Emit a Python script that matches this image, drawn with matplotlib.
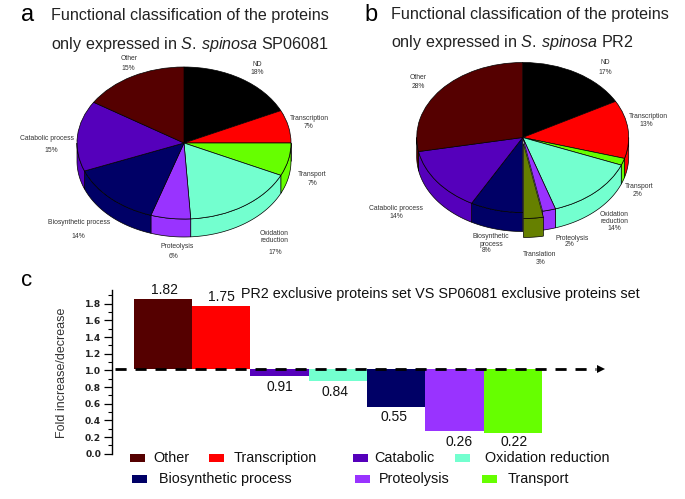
import numpy as np
import matplotlib
matplotlib.use("Agg")
import matplotlib.pyplot as plt
from matplotlib.patches import Rectangle

W, H = 685, 499

plt.rcParams['font.family'] = ['Liberation Sans', 'DejaVu Sans']
plt.rcParams['mathtext.fontset'] = 'custom'
plt.rcParams['mathtext.rm'] = 'Liberation Sans'
plt.rcParams['mathtext.it'] = 'Liberation Sans:italic'

COLORS = {
    "ND": "#000000", "Transcription": "#ff0000", "Transport": "#66ff00",
    "Oxidation": "#73ffcf", "Proteolysis": "#9933ff", "Translation": "#668000",
    "Biosynthetic": "#000066", "Catabolic": "#5500bb", "Other": "#550000",
}

# pie a: printed percentages and the slice sizes as drawn (the printed ones do not add to 100)
keys_a = ["ND", "Transcription", "Transport", "Oxidation", "Proteolysis", "Biosynthetic", "Catabolic", "Other"]
names_a = ["ND", "Transcription", "Transport", "Oxidation\nreduction", "Proteolysis",
           "Biosynthetic process", "Catabolic process", "Other"]
values_a = [18, 7, 7, 17, 6, 14, 15, 15]
shares_a = [18, 7, 7, 17, 6, 14, 15, 16]

# pie b
keys_b = ["ND", "Transcription", "Transport", "Oxidation", "Proteolysis", "Translation",
          "Biosynthetic", "Catabolic", "Other"]
names_b = ["ND", "Transcription", "Transport", "Oxidation\nreduction", "Proteolysis", "Translation",
           "Biosynthetic\nprocess", "Catabolic process", "Other"]
values_b = [17, 13, 2, 14, 2, 3, 8, 14, 28]
shares_b = [17, 12.5, 1.5, 14, 2, 3, 8, 14, 28]

# fold change bars, heights as drawn and the printed numbers
bar_keys = ["Other", "Transcription", "Catabolic", "Oxidation", "Biosynthetic", "Proteolysis", "Transport"]
bar_tops = [1.86, 1.77, 0.93, 0.87, 0.56, 0.27, 0.25]
bar_labels = ["1.82", "1.75", "0.91", "0.84", "0.55", "0.26", "0.22"]
bar_base = 1.02

# legend rows
legend_keys = ["Other", "Transcription", "Catabolic", "Oxidation", "Biosynthetic", "Proteolysis", "Transport"]
legend_names = ["Other", "Transcription", "Catabolic", "Oxidation reduction",
                "Biosynthetic process", "Proteolysis", "Transport"]

# label places in image pixels (name centre, value centre)
places_a = [((257, 65), (257, 72)), ((309, 118), (308, 127)), ((312, 175), (312, 184)),
            ((274, 237), (275, 253)), ((177, 247), (174, 256)), ((79, 223), (78, 237)),
            ((47, 138), (51, 150)), ((129, 59), (128, 68))]
places_b = [((605, 63), (605, 72)), ((648, 117), (646, 125)), ((639, 187), (638, 194)),
            ((614, 218), (614, 229)), ((572, 239), (570, 245)), ((540, 255), (541, 262)),
            ((491, 240.5), (487, 251)), ((396, 209), (396, 216)), ((418, 78), (418, 86))]
bar_label_places = [(165, 290), (221, 297), (280, 387), (334.5, 392), (394, 417), (459, 442), (514, 442)]
legend_swatches = [(129.5, 458), (209, 458), (353, 458), (455, 458), (132, 479), (355, 479), (482, 479)]
legend_text_x = [153.6, 233.5, 374.5, 485, 159, 379, 508]


def px_text(fig, x, y, s, **kw):
    kw.setdefault("ha", "left")
    kw.setdefault("va", "center")
    return fig.text(x / W, 1 - y / H, s, **kw)


def pie_3d(fig, cx, cy, rx, ry, depth, shares, keys, explode=None):
    ax = fig.add_axes([(cx - rx) / W, 1 - (cy + ry) / H, 2 * rx / W, 2 * ry / H])
    colors = [COLORS[k] for k in keys]
    wedges, _ = ax.pie(shares, colors=colors, startangle=90, counterclock=False, radius=1,
                       explode=explode, wedgeprops=dict(edgecolor="black", linewidth=0.5))
    ax.set_aspect("auto")
    ax.set_xlim(-1, 1)
    ax.set_ylim(-1, 1)
    d = depth / ry

    # side wall, only the front half of the rim shows
    for i, (w, c) in enumerate(zip(wedges, colors)):
        a0 = max(w.theta1, -180)
        a1 = min(w.theta2, 0)
        if a1 <= a0:
            continue
        t = np.radians(np.linspace(a0, a1, 40))
        x = w.center[0] + np.cos(t)
        y = w.center[1] + np.sin(t)
        xs = np.r_[x, x[::-1]]
        ys = np.r_[y, y[::-1] - d]
        lifted = explode is not None and explode[i] > 0
        ax.fill(xs, ys, facecolor=c, edgecolor="black", linewidth=0.5,
                zorder=2.5 if lifted else 0.5, clip_on=False)
    for i, w in enumerate(wedges):
        w.set_clip_on(False)
        w.set_zorder(3 if explode is not None and explode[i] > 0 else 1)
    ax.axis("off")
    return ax


def pie_labels(fig, names, values, places):
    for name, val, (p_name, p_val) in zip(names, values, places):
        px_text(fig, p_name[0], p_name[1], name, ha="center", fontsize=4.85, color="#333333", linespacing=1.0)
        px_text(fig, p_val[0], p_val[1], f"{val}%", ha="center", fontsize=4.85, color="#333333")


fig = plt.figure(figsize=(W / 100, H / 100), dpi=100)

pie_3d(fig, 184, 143, 107, 76, 18, shares_a, keys_a)
pie_labels(fig, names_a, values_a, places_a)
pie_3d(fig, 522.7, 137.5, 106, 75, 19, shares_b, keys_b,
       explode=[0, 0, 0, 0, 0, 0.08, 0, 0, 0])
pie_labels(fig, names_b, values_b, places_b)

# panel letters and titles
px_text(fig, 21, 15, "a", fontsize=17)
px_text(fig, 364, 15, "b", fontsize=17)
px_text(fig, 21, 280, "c", fontsize=16)

title_kw = dict(fontsize=11.6, color="#222222")
px_text(fig, 51, 15.5, "Functional classification of the proteins", **title_kw)
px_text(fig, 51, 44, r"only expressed in $\mathit{S.\,spinosa}$ SP06081", **title_kw)
px_text(fig, 391, 14, "Functional classification of the proteins", **title_kw)
px_text(fig, 391, 43, r"only expressed in $\mathit{S.\,spinosa}$ PR2", **title_kw)

# panel c
y0_px, unit = 453.7, 83.3
ax_left, ax_top = 112, 290
bar_w = 58.3
first_c = 163
arrow_px = 608
ax = fig.add_axes([ax_left / W, 1 - y0_px / H, (arrow_px - ax_left) / W, (y0_px - ax_top) / H])
ax.set_xlim((ax_left - first_c) / bar_w, (arrow_px - first_c) / bar_w)
ax.set_ylim(0, (y0_px - ax_top) / unit)
xpos = np.arange(len(bar_tops))
tops = np.array(bar_tops)
ax.bar(xpos, tops - bar_base, bottom=bar_base, width=1.0,
       color=[COLORS[k] for k in bar_keys], linewidth=0, zorder=2)

xl = ax.get_xlim()
ax.plot([xl[0] + 0.05, xl[1] - 0.2], [bar_base, bar_base], color="black", lw=2.0,
        dashes=(4, 3.2), zorder=4, clip_on=False)
ax.plot([xl[1] - 0.12], [bar_base], marker=">", color="black", ms=6, mew=0, zorder=4, clip_on=False)

for s in ["top", "right", "bottom"]:
    ax.spines[s].set_visible(False)
ax.spines["left"].set_linewidth(1.0)
ax.set_xticks([])
ax.set_yticks(np.arange(0, 1.81, 0.2))
ax.set_yticks(np.arange(0.1, 1.91, 0.2), minor=True)
ax.set_yticklabels([f"{v:.1f}" for v in np.arange(0, 1.81, 0.2)],
                   fontfamily="DejaVu Sans", fontweight="bold", fontsize=6.6, color="#222222")
ax.tick_params(axis="y", which="major", length=5.8, width=0.9, pad=2)
ax.tick_params(axis="y", which="minor", length=3, width=0.8)
ax.patch.set_alpha(0)

px_text(fig, 62, 373, "Fold increase/decrease", rotation=90, ha="center", fontsize=9.0, color="#333333")
px_text(fig, 241, 294, "PR2 exclusive proteins set VS SP06081 exclusive proteins set",
        fontsize=10.4, color="#111111")

for s, (x, y) in zip(bar_labels, bar_label_places):
    px_text(fig, x, y, s, ha="center", fontsize=10, color="#111111")

# legend is laid out by hand because its columns do not line up
for key, name, (sx, sy), tx in zip(legend_keys, legend_names, legend_swatches, legend_text_x):
    fig.add_artist(Rectangle((sx / W, 1 - (sy + 4) / H), 15.4 / W, 8 / H, transform=fig.transFigure,
                             facecolor=COLORS[key], edgecolor="none"))
    px_text(fig, tx, sy, name, fontsize=10.4, color="#111111")

fig.savefig("out.png", dpi=100)
